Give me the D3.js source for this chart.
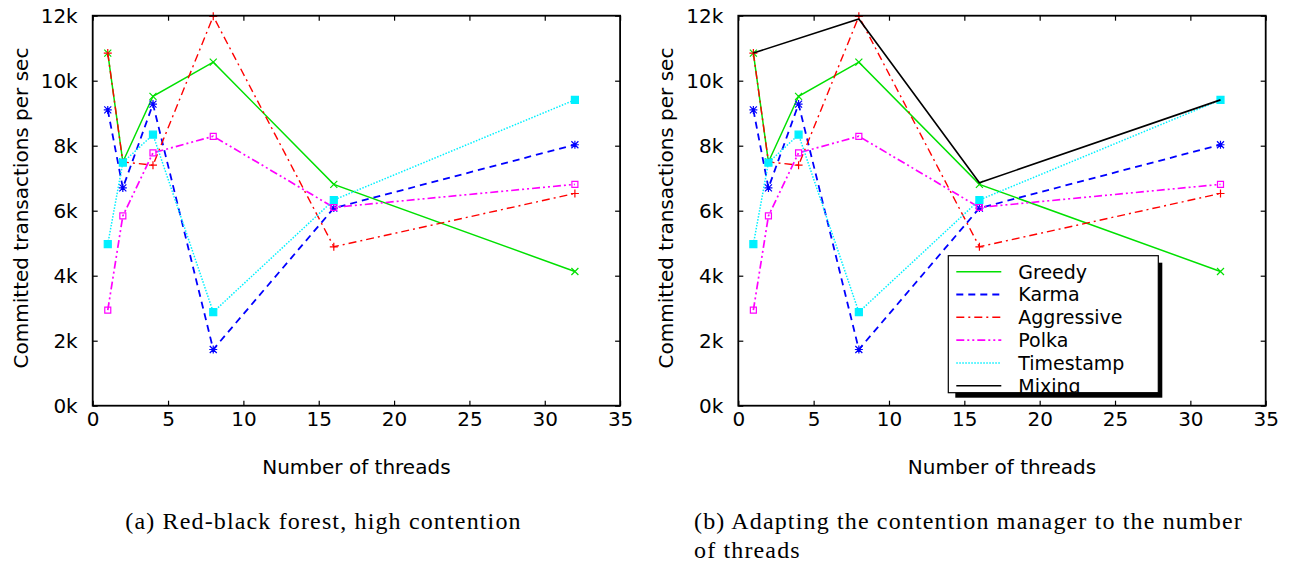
<!DOCTYPE html>
<html>
<head>
<meta charset="utf-8">
<script src="https://cdn.jsdelivr.net/npm/d3@7"></script>
<style>
  body { margin: 0; background: #fff; }
  svg { display: block; }
</style>
</head>
<body>
<div id="chart"></div>
<script>
// data (transactions per second)
var threads = [1, 2, 4, 8, 16, 32];
var greedy = [10850, 7500, 9520, 10570, 6810, 4130];
var karma = [9100, 6700, 9280, 1730, 6080, 8030];
var aggressive = [10850, 7500, 7400, 11980, 4890, 6530];
var polka = [2940, 5840, 7780, 8290, 6100, 6810];
var timestamp = [4970, 7480, 8340, 2880, 6330, 9410];
var mixingThreads = [1, 8, 16, 32];
var mixing = [10850, 11900, 6860, 9410];

var xTicks = [0, 5, 10, 15, 20, 25, 30, 35];
var yTicks = [0, 2000, 4000, 6000, 8000, 10000, 12000];

var captionA = "(a) Red-black forest, high contention";
var captionB1 = "(b) Adapting the contention manager to the number";
var captionB2 = "of threads";

var width = 1299,
	height = 565;

var sans = "'DejaVu Sans', sans-serif";
var serif = "'Liberation Serif', serif";

var svg = d3.select("#chart")
	.append("svg")
	.attr("width", width)
	.attr("height", height);

// style of each curve
var styles = [
	{name: "Greedy",     xs: threads, ys: greedy,     color: "#00e000", dash: null,            w: 1.5, mark: "x"},
	{name: "Karma",      xs: threads, ys: karma,      color: "#0000ff", dash: "7,5",           w: 1.8, mark: "star"},
	{name: "Aggressive", xs: threads, ys: aggressive, color: "#ff0000", dash: "8,4,2,4",       w: 1.4, mark: "plus"},
	{name: "Polka",      xs: threads, ys: polka,      color: "#ff00ff", dash: "8,3,2,3,2,3",   w: 1.7, mark: "box"},
	{name: "Timestamp",  xs: threads, ys: timestamp,  color: "#00f0ff", dash: "1.5,1.5",       w: 1.5, mark: "fbox"},
	{name: "Mixing",     xs: mixingThreads, ys: mixing, color: "#000000", dash: null,          w: 1.6, mark: null}
];

var markPath = {
	"x": "M-3.5,-3.5L3.5,3.5M-3.5,3.5L3.5,-3.5",
	"plus": "M-4,0L4,0M0,-4L0,4",
	"star": "M-3.5,-3.5L3.5,3.5M-3.5,3.5L3.5,-3.5M-4,0L4,0M0,-4L0,4",
	"box": "M-3,-3L3,-3L3,3L-3,3Z",
	"fbox": "M-3.5,-3.5L3.5,-3.5L3.5,3.5L-3.5,3.5Z"
};

function panel(left, curves, legend) {
	var x = d3.scaleLinear().domain([0, 35]).range([left, left + 527.4]);
	var y = d3.scaleLinear().domain([0, 12000]).range([405.7, 15.7]);
	var g = svg.append("g");

	// axes, ticks drawn inwards on all four sides
	var fmt = function(d) { return d / 1000 + "k"; };
	var ax = g.append("g").attr("transform", "translate(0,405.7)")
		.call(d3.axisBottom(x).tickValues(xTicks).tickSizeInner(-5).tickSizeOuter(0).tickPadding(4));
	var ay = g.append("g").attr("transform", "translate(" + left + ",0)")
		.call(d3.axisLeft(y).tickValues(yTicks).tickFormat(fmt).tickSizeInner(-5).tickSizeOuter(0).tickPadding(15));
	g.append("g").attr("transform", "translate(0,15.7)")
		.call(d3.axisTop(x).tickValues(xTicks).tickSizeInner(-5).tickSizeOuter(0).tickFormat(""));
	g.append("g").attr("transform", "translate(" + (left + 527.4) + ",0)")
		.call(d3.axisRight(y).tickValues(yTicks).tickSizeInner(-5).tickSizeOuter(0).tickFormat(""));
	g.selectAll(".domain").remove();
	g.selectAll(".tick line").attr("stroke", "#000").attr("stroke-width", 1.2);
	g.selectAll(".tick text")
		.style("font-family", sans)
		.style("font-size", "20px")
		.attr("fill", "#000");
	ax.selectAll(".tick text").attr("dy", "0.8em");

	// curves
	var line = d3.line()
		.x(function(d) { return x(d[0]); })
		.y(function(d) { return y(d[1]); });

	curves.forEach(function(s) {
		var pts = s.xs.map(function(t, i) { return [t, s.ys[i]]; });
		g.append("path")
			.data([pts])
			.attr("d", line)
			.attr("fill", "none")
			.attr("stroke", s.color)
			.attr("stroke-width", s.w)
			.attr("stroke-dasharray", s.dash);
		if (s.mark) {
			g.append("g")
				.selectAll("path")
				.data(pts)
				.enter().append("path")
				.attr("transform", function(d) { return "translate(" + x(d[0]) + "," + y(d[1]) + ")"; })
				.attr("d", markPath[s.mark])
				.attr("fill", s.mark == "fbox" ? s.color : "none")
				.attr("stroke", s.color)
				.attr("stroke-width", 1.2);
		}
	});

	// frame
	g.append("rect")
		.attr("x", left)
		.attr("y", 15.7)
		.attr("width", 527.4)
		.attr("height", 390)
		.attr("fill", "none")
		.attr("stroke", "#000")
		.attr("stroke-width", 1.8);

	// labels
	g.append("text")
		.attr("transform", "translate(" + (left - 72) + ",208) rotate(-90)")
		.attr("dy", "0.35em")
		.style("text-anchor", "middle")
		.style("font-family", sans)
		.style("font-size", "20px")
		.text("Committed transactions per sec");
	g.append("text")
		.attr("x", left + 263.7)
		.attr("y", 474)
		.style("text-anchor", "middle")
		.style("font-family", sans)
		.style("font-size", "20px")
		.text("Number of threads");

	if (legend) {
		var bx = left + 210, by = 255.7, bw = 210, bh = 137;
		g.append("rect")
			.attr("x", bx + 7).attr("y", by + 7)
			.attr("width", bw - 3).attr("height", bh - 2)
			.attr("fill", "#000");
		g.append("rect")
			.attr("x", bx).attr("y", by)
			.attr("width", bw).attr("height", bh)
			.attr("fill", "#fff")
			.attr("stroke", "#000")
			.attr("stroke-width", 1.2);
		var rows = g.append("g")
			.selectAll("g")
			.data(curves)
			.enter().append("g")
			.attr("transform", function(d, i) { return "translate(0," + (by + 16 + i * 22.8) + ")"; });
		rows.append("line")
			.attr("x1", bx + 8).attr("x2", bx + 53)
			.attr("stroke", function(d) { return d.color; })
			.attr("stroke-width", function(d) { return d.w; })
			.attr("stroke-dasharray", function(d) { return d.dash; });
		rows.append("text")
			.attr("x", bx + 70)
			.attr("dy", "0.36em")
			.style("font-family", sans)
			.style("font-size", "19px")
			.text(function(d) { return d.name; });
	}
}

panel(92.7, styles.slice(0, 5), false);
panel(738.3, styles, true);

// captions
function caption(txt, x, y, anchor) {
	svg.append("text")
		.attr("x", x)
		.attr("y", y)
		.style("text-anchor", anchor)
		.style("font-family", serif)
		.style("font-size", "24px")
		.style("letter-spacing", "1.15px")
		.text(txt);
}
caption(captionA, 323.5, 529, "middle");
caption(captionB1, 694, 529, "start");
caption(captionB2, 694, 558, "start");
</script>
</body>
</html>
